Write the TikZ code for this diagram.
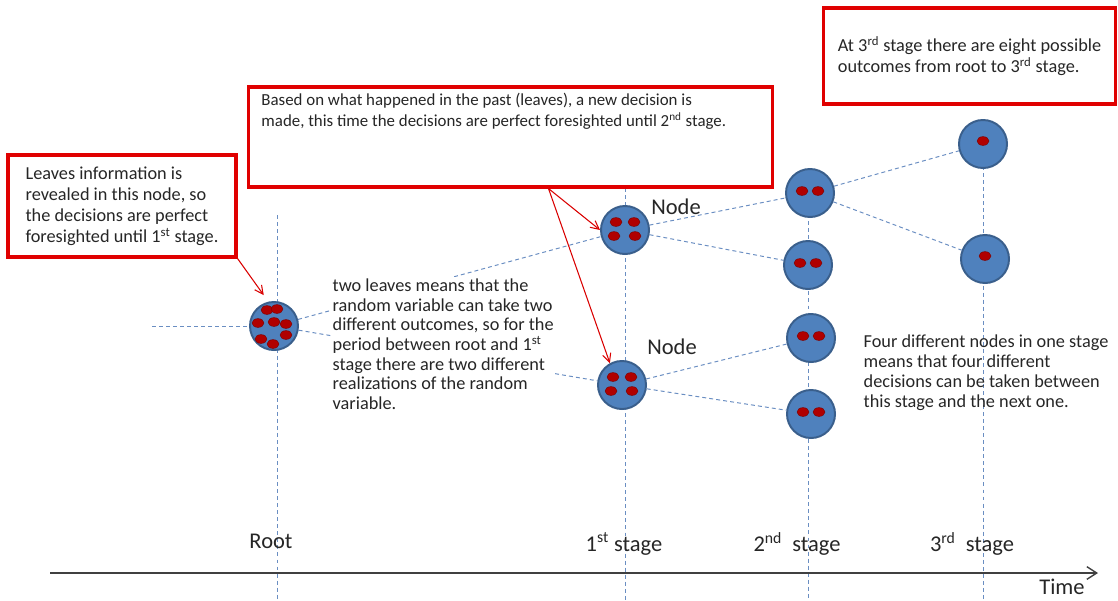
\documentclass[tikz,border=0pt]{standalone}
\usepackage{fontspec}
\setmainfont{Carlito}
\usetikzlibrary{arrows.meta}
\definecolor{nodeblue}{HTML}{4F81BD}
\definecolor{nodeedge}{HTML}{3A5F8C}
\definecolor{leafred}{HTML}{B00000}
\definecolor{boxred}{HTML}{E00000}
\definecolor{guide}{HTML}{6A8EC2}

\begin{document}
\begin{tikzpicture}[x=0.025cm,y=-0.025cm]
\tikzstyle{every node}=[font=\fontsize{13}{15}\selectfont,text=black!85]
\tikzstyle{stagenode}=[circle,draw=nodeedge,line width=1.4pt,fill=nodeblue,minimum size=1.2cm,inner sep=0pt]
\tikzstyle{leaf}=[fill=leafred,draw=leafred!70!black,line width=.3pt]
\tikzstyle{guideline}=[guide,line width=.7pt,dash pattern=on 2.8pt off 2.2pt]
\tikzstyle{note}=[draw=boxred,line width=2.2pt,fill=white,align=left,inner sep=0pt]
\tikzstyle{pointer}=[red!85!black,line width=.75pt,-{Straight Barb[length=6pt,width=6pt]}]
\tikzstyle{stagelabel}=[font=\fontsize{16}{18}\selectfont]
\useasboundingbox (0,0) rectangle (1118,600);

% vertical time marks
\coordinate (g0t) at (277,215); \coordinate (g0b) at (277,600);
\coordinate (g1t) at (625,188); \coordinate (g1b) at (625,600);
\coordinate (g2t) at (808,193); \coordinate (g2b) at (808,600);
\coordinate (g3t) at (983,145); \coordinate (g3b) at (983,600);
\coordinate (rin) at (152,326);
\draw[guideline] (g0t) -- (g0b);
\draw[guideline] (g1t) -- (g1b);
\draw[guideline] (g2t) -- (g2b);
\draw[guideline] (g3t) -- (g3b);

% time axis
\coordinate (ax0) at (50,573);
\coordinate (ax1) at (1098,573);
\draw[black!75,line width=1pt,-{Straight Barb[length=7pt,width=9pt]}] (ax0) -- (ax1);
\node (time) [stagelabel] at (1062,587) {Time};

% tree
\node (r)  [stagenode] at (274,326) {};
\node (a1) [stagenode] at (625,230) {};
\node (a2) [stagenode] at (622,385) {};
\node (b1) [stagenode] at (810,193) {};
\node (b2) [stagenode] at (808,265) {};
\node (b3) [stagenode] at (811,338) {};
\node (b4) [stagenode] at (811,414) {};
\node (c1) [stagenode] at (983,144) {};
\node (c2) [stagenode] at (985,259) {};

\foreach \dx/\dy in {-7/-16,3/-17,-16/-3,0/-4,12/-2,-13/13,12/9,-1/18}
  \fill[leaf] ([shift={(\dx,\dy)}]r) ellipse [x radius=0.15cm,y radius=0.11cm];
\foreach \n in {a1,a2}
  \foreach \dx/\dy in {-9/-8,9/-8,-11/6,10/6}
    \fill[leaf] ([shift={(\dx,\dy)}]\n) ellipse [x radius=0.15cm,y radius=0.11cm];
\foreach \n in {b1,b2,b3,b4}
  \foreach \dx in {-8,8}
    \fill[leaf] ([shift={(\dx,-2)}]\n) ellipse [x radius=0.15cm,y radius=0.11cm];
\foreach \n in {c1,c2}
  \fill[leaf] ([shift={(0,-3)}]\n) ellipse [x radius=0.15cm,y radius=0.11cm];

\draw[guideline] (rin) -- (r);
\draw[guideline] (r) -- (a1);
\draw[guideline] (r) -- (a2);
\draw[guideline] (a1) -- (b1);
\draw[guideline] (a1) -- (b2);
\draw[guideline] (a2) -- (b3);
\draw[guideline] (a2) -- (b4);
\draw[guideline] (b1) -- (c1);
\draw[guideline] (b1) -- (c2);

\node (n1) [stagelabel] at (676,207) {Node};
\node (n2) [stagelabel] at (672,347) {Node};

% stage labels
\node (l0) [stagelabel] at (271,541) {Root};
\node (l1) [stagelabel] at (624,544) {1\textsuperscript{st} stage};
\node (l2) [stagelabel] at (797,544) {2\textsuperscript{nd}\ \ stage};
\node (l3) [stagelabel] at (972,544) {3\textsuperscript{rd}\ \ stage};

% explanations
\node (t1) [anchor=north west,fill=white,align=left,inner sep=1pt,font=\fontsize{13}{14}\selectfont] at (331,277)
  {two leaves means that the\\ random variable can take two\\ different outcomes, so for the\\
   period between root and 1\textsuperscript{st}\\ stage there are two different\\ realizations of the random\\ variable.};
\node (t2) [anchor=north west,align=left,inner sep=1pt,font=\fontsize{13}{14.2}\selectfont] at (862,333)
  {Four different nodes in one stage\\ means that four different\\ decisions can be taken between\\ this stage and the next one.};

\node (la) [note,minimum width=5.7cm,minimum height=2.55cm] at (122,206)
  {Leaves information is\\ revealed in this node, so\\ the decisions are perfect\\ foresighted until 1\textsuperscript{st} stage.};
\node (lb) [note,minimum width=13.075cm,minimum height=2.5cm,font=\fontsize{12}{15}\selectfont] at (510.5,137)
  {\parbox[c][2.2cm][t]{12.45cm}{Based on what happened in the past (leaves), a new decision is\\
   made, this time the decisions are perfect foresighted until 2\textsuperscript{nd} stage.}};
\node (lc) [note,minimum width=7.3cm,minimum height=2.4cm] at (969.5,56)
  {At 3\textsuperscript{rd}\ stage there are eight possible\\ outcomes from root to 3\textsuperscript{rd} stage.};

\draw[pointer,shorten >=0.2cm] (la.south east) -- (r.103);
\draw[pointer] ([xshift=0.95cm]lb.south) -- (a1.west);
\draw[pointer] ([xshift=0.95cm]lb.south) -- (a2.119);
\end{tikzpicture}
\end{document}
